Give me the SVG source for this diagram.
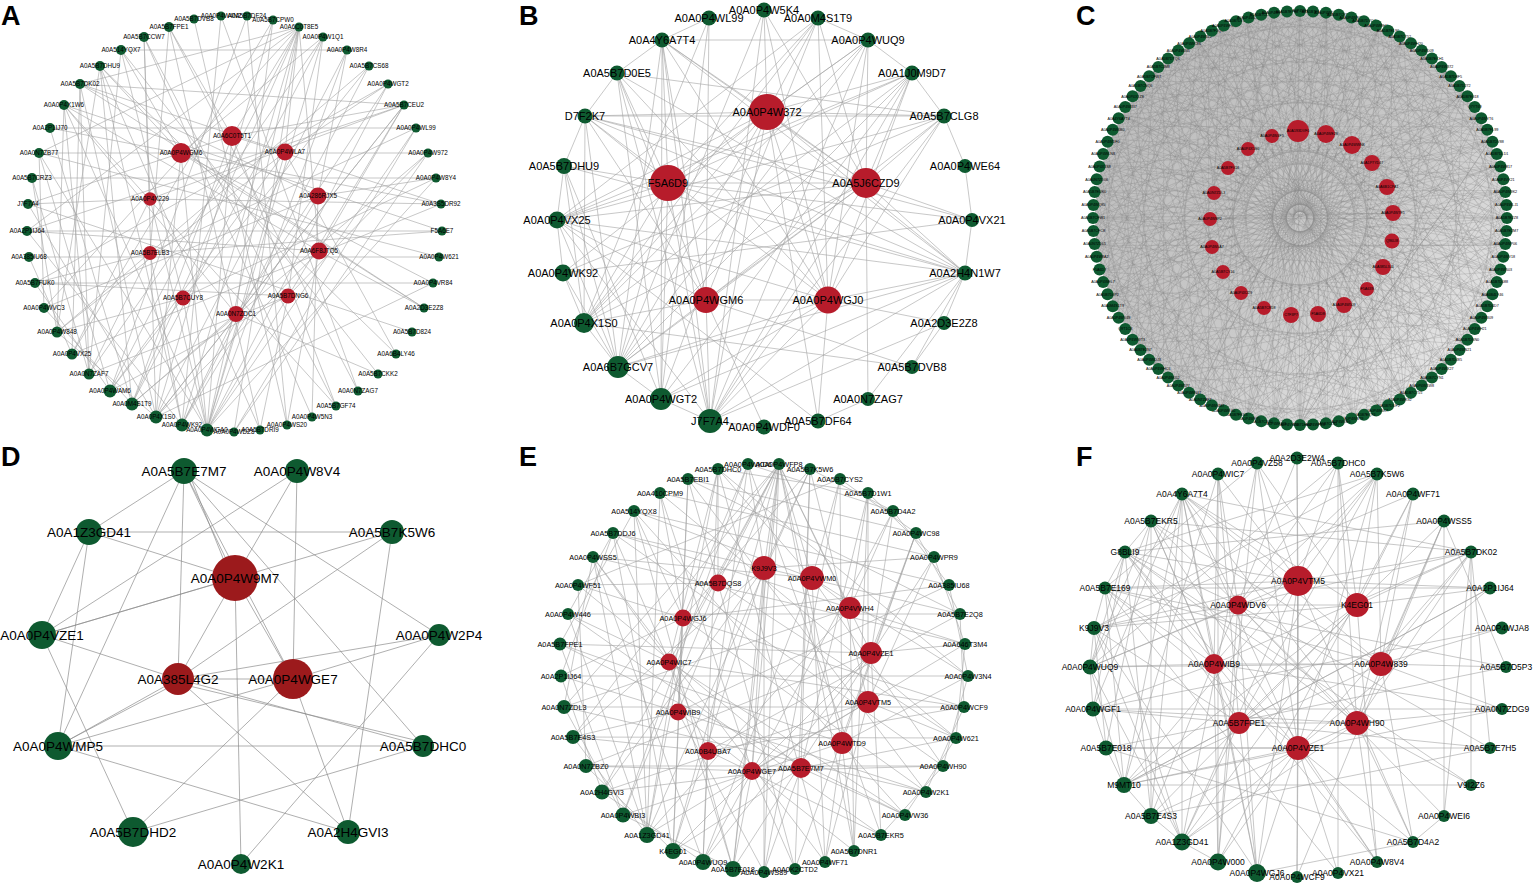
<svg xmlns="http://www.w3.org/2000/svg" xmlns:xlink="http://www.w3.org/1999/xlink" width="1535" height="886" viewBox="0 0 1535 886">
<style>
text{font-family:"Liberation Sans",Arial,Helvetica,sans-serif;text-anchor:middle;fill:#000}
.pl{font-size:27px;font-weight:bold;text-anchor:start}
.gn circle{fill:#0e5a30}
.rd circle{fill:#b71c2b}
.dr circle{fill:#9c1a1c}
.fa{font-size:6.3px}
.fb{font-size:11px}
.fc{font-size:3.7px}
.fd{font-size:13.5px}
.fe{font-size:7.3px}
.ff{font-size:8.5px}
.e{fill:none;stroke:#a3a3a3;stroke-width:.6}
.ed{fill:none;stroke:#8c8c8c;stroke-width:.7}
</style>
<defs>
<linearGradient id="cg" x1="0" y1="0" x2="1" y2="1">
<stop offset="0" stop-color="#b9b9b9"/><stop offset="0.55" stop-color="#c9c9c9"/><stop offset="1" stop-color="#f2f2f2"/>
</linearGradient>
<path id="cf" d="M1300 11 1446 72M1300 11 1505 191M1300 11 1491 297M1300 11 1426 382M1300 11 1354 418M1300 11 1327 423" fill="none" stroke="#858585" stroke-width=".4" stroke-opacity=".6"/>
<path id="cf2" d="M1300 11 1491 139M1300 11 1505 245M1300 11 1464 344M1300 11 1404 397M1300 11 1313 425" fill="none" stroke="#8a8a8a" stroke-width=".4" stroke-opacity=".55"/>
</defs>
<rect width="1535" height="886" fill="#fff"/>

<g id="labels">
<text class="pl" x="1" y="25">A</text>
<text class="pl" x="519" y="25">B</text>
<text class="pl" x="1076" y="25">C</text>
<text class="pl" x="1" y="466">D</text>
<text class="pl" x="519" y="466">E</text>
<text class="pl" x="1076" y="466">F</text>
</g>

<g id="connectors">
<path id="edges-a" class="e" stroke-width=".5" d="M232 136 299 27M232 136 169 27M232 136 207 430M232 136 441 204M232 136 28 204M232 136 132 404M232 136 336 406M232 136 404 105M181 153 100 66M181 153 121 50M181 153 323 37M181 153 207 430M181 153 156 417M181 153 433 283M39 153 428 153M181 153 424 308M285 152 299 27M285 152 388 84M285 152 207 430M285 152 110 391M285 152 80 84M285 152 396 354M285 152 57 332M28 204 150 199M150 199 144 37M150 199 207 430M150 199 404 105M150 199 72 354M150 199 441 204M318 196 347 50M318 196 182 425M318 196 80 84M318 196 436 178M318 196 312 417M318 196 44 308M150 253 35 283M150 253 169 27M150 253 182 425M150 253 416 128M150 253 442 231M150 253 89 374M319 251 299 27M319 251 27 231M319 251 156 417M319 251 404 105M319 251 287 425M319 251 424 308M319 251 64 105M183 298 121 50M183 298 207 430M183 298 436 178M183 298 57 332M183 298 369 66M183 298 110 391M288 296 323 37M288 296 110 391M288 296 35 283M288 296 428 153M288 296 260 430M288 296 89 374M236 314 273 20M236 314 182 425M236 314 64 105M236 314 388 84M236 314 378 374M236 314 132 404M121 50 347 50M50 128 416 128M35 283 433 283M27 231 442 231M29 257 439 257M207 430 299 27M207 430 323 37M207 430 388 84M207 430 404 105M207 430 416 128M207 430 436 178M182 425 299 27M182 425 369 66M156 417 273 20M156 417 347 50M234 432 299 27M234 432 428 153M80 84 72 354M80 84 156 417M100 66 132 404M100 66 182 425M64 105 89 374M64 105 207 430M144 37 156 417M144 37 336 406M169 27 260 430M169 27 358 391M194 19 287 425M221 16 182 425M247 16 110 391M273 20 72 354M299 27 44 308M299 27 27 231M299 27 39 153M299 27 80 84M299 27 132 404M323 37 89 374M347 50 207 430M369 66 57 332M388 84 35 283M404 105 156 417M404 105 27 231M404 105 80 84M416 128 234 432M428 153 132 404M436 178 32 178M441 204 72 354M439 257 39 153M433 283 156 417M424 308 80 84M412 332 28 204M396 354 100 66M378 374 121 50M358 391 221 16M336 406 64 105M312 417 144 37M287 425 247 16M260 430 100 66M132 404 50 128M110 391 39 153M89 374 32 178M57 332 32 178M44 308 39 153M72 354 29 257M110 391 35 283M132 404 44 308M156 417 57 332M121 50 89 374M100 66 57 332M50 128 441 204M64 105 442 231M27 231 182 425M28 204 156 417M39 153 207 430M110 391 299 27M132 404 323 37M156 417 404 105M89 374 80 84M57 332 64 105"/>

<path id="edges-b" class="e" stroke="#9d9d9d" stroke-width=".65" d="M767 112 662 40M767 112 585 116M767 112 557 220M767 112 584 323M767 112 618 367M767 112 661 399M767 112 710 421M767 112 912 73M767 112 944 116M767 112 965 273M767 112 764 10M767 112 818 18M767 112 868 40M767 112 828 300M767 112 866 183M767 112 563 273M767 112 818 421M668 183 818 18M668 183 868 40M668 183 912 73M668 183 585 116M668 183 564 166M668 183 557 220M668 183 584 323M668 183 618 367M668 183 661 399M668 183 710 421M668 183 866 183M668 183 965 273M668 183 972 220M668 183 617 73M668 183 662 40M866 183 764 10M866 183 818 18M866 183 868 40M866 183 912 73M866 183 944 116M866 183 972 220M866 183 965 273M866 183 585 116M866 183 557 220M866 183 584 323M866 183 618 367M866 183 710 421M866 183 868 399M866 183 706 300M866 183 662 40M706 300 709 18M706 300 662 40M706 300 617 73M706 300 585 116M706 300 557 220M706 300 584 323M706 300 618 367M706 300 828 300M706 300 912 367M706 300 710 421M706 300 764 427M706 300 818 18M706 300 944 116M828 300 818 18M828 300 868 40M828 300 912 73M828 300 944 116M828 300 965 273M828 300 944 323M828 300 557 220M828 300 618 367M828 300 661 399M828 300 710 421M828 300 662 40M828 300 585 116M828 300 818 421M828 300 764 10M828 300 617 73M585 116 944 116M662 40 868 40M617 73 585 116M585 116 564 166M564 166 557 220M557 220 563 273M563 273 584 323M584 323 618 367M618 367 661 399M661 399 710 421M662 40 617 73M912 73 944 116M944 116 965 166M965 166 972 220M972 220 965 273M965 273 944 323M944 323 912 367M868 40 912 73M818 18 868 40M709 18 662 40M868 399 818 421M710 421 764 427M764 10 618 367M764 10 710 421M818 18 584 323M818 18 557 220M709 18 584 323M868 40 584 323M868 40 618 367M617 73 710 421M617 73 661 399M912 73 557 220M912 73 618 367M912 73 584 323M944 116 557 220M944 116 563 273M662 40 710 421M662 40 661 399M662 40 965 273M585 116 965 273M585 116 972 220M564 166 965 273M617 73 944 116M557 220 965 273M563 273 972 220M618 367 965 273M661 399 965 273M710 421 965 273M710 421 944 116M710 421 868 40M564 166 661 399M557 220 710 421M617 73 965 273M584 323 912 367M557 220 618 367M564 166 618 367M563 273 618 367M564 166 584 323M585 116 584 323M585 116 618 367M662 40 618 367M710 421 912 73M661 399 912 73M818 421 557 220M965 273 868 399M965 273 912 367M944 323 710 421M709 18 661 399"/>

<g id="edges-c">
<circle cx="1300" cy="218" r="205" fill="url(#cg)"/>
<use xlink:href="#cf"/><use xlink:href="#cf" transform="rotate(7.5 1300 218)"/><use xlink:href="#cf" transform="rotate(15 1300 218)"/><use xlink:href="#cf" transform="rotate(22.5 1300 218)"/><use xlink:href="#cf" transform="rotate(30 1300 218)"/><use xlink:href="#cf" transform="rotate(37.5 1300 218)"/><use xlink:href="#cf" transform="rotate(45 1300 218)"/><use xlink:href="#cf" transform="rotate(52.5 1300 218)"/><use xlink:href="#cf" transform="rotate(60 1300 218)"/><use xlink:href="#cf" transform="rotate(67.5 1300 218)"/><use xlink:href="#cf" transform="rotate(75 1300 218)"/><use xlink:href="#cf" transform="rotate(82.5 1300 218)"/><use xlink:href="#cf" transform="rotate(90 1300 218)"/><use xlink:href="#cf" transform="rotate(97.5 1300 218)"/><use xlink:href="#cf" transform="rotate(105 1300 218)"/><use xlink:href="#cf" transform="rotate(112.5 1300 218)"/><use xlink:href="#cf" transform="rotate(120 1300 218)"/><use xlink:href="#cf" transform="rotate(127.5 1300 218)"/><use xlink:href="#cf" transform="rotate(135 1300 218)"/><use xlink:href="#cf" transform="rotate(142.5 1300 218)"/><use xlink:href="#cf" transform="rotate(150 1300 218)"/><use xlink:href="#cf" transform="rotate(157.5 1300 218)"/><use xlink:href="#cf" transform="rotate(165 1300 218)"/><use xlink:href="#cf" transform="rotate(172.5 1300 218)"/><use xlink:href="#cf" transform="rotate(180 1300 218)"/><use xlink:href="#cf" transform="rotate(187.5 1300 218)"/><use xlink:href="#cf" transform="rotate(195 1300 218)"/><use xlink:href="#cf" transform="rotate(202.5 1300 218)"/><use xlink:href="#cf" transform="rotate(210 1300 218)"/><use xlink:href="#cf" transform="rotate(217.5 1300 218)"/><use xlink:href="#cf" transform="rotate(225 1300 218)"/><use xlink:href="#cf" transform="rotate(232.5 1300 218)"/><use xlink:href="#cf" transform="rotate(240 1300 218)"/><use xlink:href="#cf" transform="rotate(247.5 1300 218)"/><use xlink:href="#cf" transform="rotate(255 1300 218)"/><use xlink:href="#cf" transform="rotate(262.5 1300 218)"/><use xlink:href="#cf" transform="rotate(270 1300 218)"/><use xlink:href="#cf" transform="rotate(277.5 1300 218)"/><use xlink:href="#cf" transform="rotate(285 1300 218)"/><use xlink:href="#cf" transform="rotate(292.5 1300 218)"/><use xlink:href="#cf" transform="rotate(300 1300 218)"/><use xlink:href="#cf" transform="rotate(307.5 1300 218)"/><use xlink:href="#cf" transform="rotate(315 1300 218)"/><use xlink:href="#cf" transform="rotate(322.5 1300 218)"/><use xlink:href="#cf" transform="rotate(330 1300 218)"/><use xlink:href="#cf" transform="rotate(337.5 1300 218)"/><use xlink:href="#cf" transform="rotate(345 1300 218)"/><use xlink:href="#cf" transform="rotate(352.5 1300 218)"/>
<use xlink:href="#cf2" transform="rotate(183.75 1300 218)"/><use xlink:href="#cf2" transform="rotate(191.25 1300 218)"/><use xlink:href="#cf2" transform="rotate(198.75 1300 218)"/><use xlink:href="#cf2" transform="rotate(206.25 1300 218)"/><use xlink:href="#cf2" transform="rotate(213.75 1300 218)"/><use xlink:href="#cf2" transform="rotate(221.25 1300 218)"/><use xlink:href="#cf2" transform="rotate(228.75 1300 218)"/><use xlink:href="#cf2" transform="rotate(236.25 1300 218)"/><use xlink:href="#cf2" transform="rotate(243.75 1300 218)"/><use xlink:href="#cf2" transform="rotate(251.25 1300 218)"/><use xlink:href="#cf2" transform="rotate(258.75 1300 218)"/><use xlink:href="#cf2" transform="rotate(266.25 1300 218)"/><use xlink:href="#cf2" transform="rotate(273.75 1300 218)"/><use xlink:href="#cf2" transform="rotate(281.25 1300 218)"/><use xlink:href="#cf2" transform="rotate(288.75 1300 218)"/><use xlink:href="#cf2" transform="rotate(296.25 1300 218)"/><use xlink:href="#cf2" transform="rotate(303.75 1300 218)"/><use xlink:href="#cf2" transform="rotate(311.25 1300 218)"/><use xlink:href="#cf2" transform="rotate(318.75 1300 218)"/><use xlink:href="#cf2" transform="rotate(326.25 1300 218)"/><use xlink:href="#cf2" transform="rotate(333.75 1300 218)"/><use xlink:href="#cf2" transform="rotate(341.25 1300 218)"/><use xlink:href="#cf2" transform="rotate(348.75 1300 218)"/><use xlink:href="#cf2" transform="rotate(356.25 1300 218)"/><use xlink:href="#cf2" transform="rotate(3.75 1300 218)"/><use xlink:href="#cf2" transform="rotate(11.25 1300 218)"/><use xlink:href="#cf2" transform="rotate(18.75 1300 218)"/><use xlink:href="#cf2" transform="rotate(26.25 1300 218)"/><use xlink:href="#cf2" transform="rotate(93.75 1300 218)"/><use xlink:href="#cf2" transform="rotate(123.75 1300 218)"/><use xlink:href="#cf2" transform="rotate(153.75 1300 218)"/>
<path fill="none" stroke="#8a8a8a" stroke-width=".45" stroke-opacity=".7" d="M1298 131 1300 11M1298 131 1093 218M1298 131 1300 425M1298 131 1507 218M1298 131 1136 92M1272 136 1121 115M1272 136 1404 397M1272 136 1154 364M1326 134 1404 39M1326 134 1197 397M1326 134 1479 322M1352 145 1479 115M1352 145 1109 297M1352 145 1300 425M1372 163 1221 27M1372 163 1246 418M1372 163 1500 272M1387 187 1100 164M1387 187 1404 397M1393 213 1093 218M1393 213 1354 418M1393 213 1446 72M1392 241 1121 115M1392 241 1273 423M1383 267 1095 245M1383 267 1327 423M1383 267 1500 164M1367 289 1197 39M1367 289 1221 409M1344 305 1154 72M1344 305 1300 425M1344 305 1479 322M1318 314 1327 13M1318 314 1136 344M1291 315 1246 18M1291 315 1404 397M1264 308 1379 27M1264 308 1093 218M1241 293 1464 92M1241 293 1109 139M1223 272 1500 164M1223 272 1197 39M1212 247 1505 245M1212 247 1154 72M1210 219 1507 218M1210 219 1109 297M1214 193 1491 297M1214 193 1221 27M1228 168 1464 344M1228 168 1354 18M1248 149 1426 382M1248 149 1273 13M1298 131 1291 315M1372 163 1223 272M1392 241 1214 193M1272 136 1344 305M1352 145 1241 293M1210 219 1393 213M1300 425 1491 139M1300 425 1505 191M1273 423 1464 92M1246 418 1500 164M1327 423 1505 191M1300 425 1479 115M1298 131 1264 308M1326 134 1241 293M1387 187 1212 247M1248 149 1383 267"/>
</g>

<path id="edges-d" class="ed" d="M184 471 89 532M184 471 235 578M188 471 231 578M184 471 178 679M184 471 58 746M184 471 293 679M184 471 439 635M184 471 423 746M297 471 235 578M297 471 42 635M297 471 293 679M89 532 392 532M89 532 235 578M89 532 42 635M89 532 58 746M392 532 42 635M392 532 178 679M392 532 348 832M235 578 42 635M235 578 178 679M235 578 293 679M235 578 241 864M42 635 178 679M42 635 133 832M178 679 293 679M178 679 58 746M181 681 61 744M178 679 423 746M181 684 423 742M178 679 348 832M293 679 58 746M293 679 439 635M293 679 133 832M293 679 348 832M439 635 178 679M439 635 241 864M58 746 423 746M58 746 348 832M423 746 133 832"/>

<path id="edges-e" class="e" stroke="#9f9f9f" d="M764 568 613 533M764 568 779 464M764 568 748 464M764 568 810 469M764 568 673 851M764 568 733 869M764 568 764 872M764 568 573 737M764 568 960 614M764 568 934 557M764 568 602 792M764 568 752 771M812 578 779 464M812 578 718 469M812 578 840 479M812 578 634 511M812 578 593 557M812 578 703 862M812 578 825 862M812 578 943 766M812 578 968 676M812 578 850 608M718 583 688 479M718 583 718 469M718 583 779 464M718 583 578 585M718 583 623 815M718 583 795 869M718 583 956 738M850 608 613 533M850 608 779 464M850 608 868 493M850 608 893 511M850 608 647 835M850 608 854 851M850 608 564 707M850 608 965 644M683 618 634 511M683 618 660 493M683 618 748 464M683 618 810 469M683 618 561 676M683 618 647 835M683 618 673 851M683 618 926 792M683 618 949 585M871 653 893 511M871 653 916 533M871 653 779 464M871 653 965 644M871 653 560 644M871 653 673 851M871 653 703 862M871 653 586 766M871 653 881 835M669 662 718 469M669 662 593 557M669 662 568 614M669 662 779 464M669 662 733 869M669 662 905 815M669 662 964 707M868 702 934 557M868 702 810 469M868 702 868 493M868 702 647 835M868 702 825 862M868 702 956 738M868 702 602 792M678 712 688 479M678 712 779 464M678 712 561 676M678 712 573 737M678 712 764 872M678 712 854 851M678 712 926 792M678 712 949 585M842 743 779 464M842 743 840 479M842 743 916 533M842 743 623 815M842 743 854 851M842 743 825 862M842 743 968 676M842 743 560 644M708 751 748 464M708 751 613 533M708 751 573 737M708 751 703 862M708 751 881 835M708 751 964 707M708 751 960 614M752 771 779 464M752 771 660 493M752 771 586 766M752 771 733 869M752 771 795 869M752 771 943 766M752 771 965 644M801 768 810 469M801 768 868 493M801 768 602 792M801 768 673 851M801 768 764 872M801 768 905 815M801 768 956 738M801 768 578 585M568 614 960 614M564 707 964 707M561 676 968 676M586 766 943 766M573 737 956 738M647 835 593 557M647 835 634 511M647 835 660 493M647 835 810 469M673 851 613 533M673 851 688 479M673 851 779 464M703 862 593 557M703 862 893 511M703 862 718 469M733 869 634 511M733 869 779 464M733 869 934 557M764 872 779 464M764 872 840 479M795 869 810 469M795 869 916 533M854 851 868 493M854 851 779 464M825 862 718 469M825 862 593 557M881 835 748 464M881 835 568 614M905 815 634 511M905 815 560 644M926 792 688 479M926 792 564 707M943 766 613 533M956 738 660 493M964 707 578 585M968 676 718 469M965 644 593 557M960 614 688 479M949 585 634 511M934 557 660 493M916 533 688 479M893 511 748 464M868 493 718 469M840 479 578 585M779 464 564 707M779 464 573 737M779 464 602 792M748 464 623 815M718 469 647 835M568 614 647 835M560 644 623 815M561 676 602 792M564 707 623 815M573 737 647 835M586 766 673 851M602 792 703 862M623 815 733 869M578 585 586 766M593 557 564 707M613 533 561 676M634 511 560 644M613 533 568 614M943 766 881 835M956 738 905 815M964 707 926 792M968 676 943 766M965 644 956 738M960 614 964 707M949 585 968 676M934 557 965 644M916 533 960 614M893 511 949 585M868 493 934 557M840 479 916 533M810 469 893 511"/>

<path id="edges-f" class="e" stroke="#9f9f9f" d="M1298 581 1297 458M1298 581 1257 463M1298 581 1338 463M1298 581 1182 494M1298 581 1218 474M1298 581 1377 474M1298 581 1125 552M1298 581 1471 552M1298 581 1094 628M1298 581 1090 667M1298 581 1124 785M1298 581 1182 842M1298 581 1257 873M1298 581 1297 877M1298 581 1413 842M1298 581 1490 588M1298 581 1105 588M1238 605 1218 474M1238 605 1182 494M1238 605 1151 521M1238 605 1125 552M1238 605 1094 628M1238 605 1090 667M1238 605 1338 463M1238 605 1377 474M1238 605 1257 873M1238 605 1218 862M1238 605 1444 816M1238 605 1490 748M1238 605 1471 552M1357 605 1338 463M1357 605 1377 474M1357 605 1413 494M1357 605 1471 552M1357 605 1490 588M1357 605 1444 521M1357 605 1257 463M1357 605 1182 494M1357 605 1182 842M1357 605 1151 816M1357 605 1377 862M1357 605 1124 785M1357 605 1094 628M1214 664 1218 474M1214 664 1182 494M1214 664 1151 521M1214 664 1105 588M1214 664 1090 667M1214 664 1093 709M1214 664 1218 862M1214 664 1257 873M1214 664 1377 474M1214 664 1471 552M1214 664 1502 709M1381 664 1377 474M1381 664 1413 494M1381 664 1444 521M1381 664 1471 552M1381 664 1502 628M1381 664 1506 667M1381 664 1502 709M1381 664 1413 842M1381 664 1182 494M1381 664 1151 521M1381 664 1090 667M1381 664 1124 785M1381 664 1105 588M1239 723 1218 474M1239 723 1151 521M1239 723 1125 552M1239 723 1094 628M1239 723 1093 709M1239 723 1124 785M1239 723 1182 842M1239 723 1257 873M1239 723 1377 474M1239 723 1490 588M1239 723 1490 748M1357 723 1338 463M1357 723 1413 494M1357 723 1444 521M1357 723 1471 552M1357 723 1502 709M1357 723 1471 785M1357 723 1413 842M1357 723 1377 862M1357 723 1182 494M1357 723 1125 552M1357 723 1093 709M1357 723 1182 842M1357 723 1151 816M1298 748 1297 458M1298 748 1257 463M1298 748 1377 474M1298 748 1182 494M1298 748 1125 552M1298 748 1105 588M1298 748 1106 748M1298 748 1124 785M1298 748 1182 842M1298 748 1218 862M1298 748 1257 873M1298 748 1297 877M1298 748 1338 873M1298 748 1413 842M1298 748 1377 862M1298 748 1471 552M1298 748 1490 588M1298 581 1298 748M1238 605 1357 605M1214 664 1381 664M1239 723 1357 723M1238 605 1357 723M1357 605 1239 723M1105 588 1490 588M1093 709 1502 709M1106 748 1490 748M1124 785 1471 785M1444 521 1444 816M1151 521 1151 816M1218 474 1218 862M1338 463 1338 873M1090 667 1182 494M1090 667 1151 521M1090 667 1125 552M1093 709 1182 494M1093 709 1125 552M1106 748 1151 521M1106 748 1094 628M1124 785 1182 494M1124 785 1218 474M1124 785 1105 588M1124 785 1090 667M1151 816 1182 494M1151 816 1125 552M1182 842 1182 494M1182 842 1257 463M1182 842 1105 588M1182 842 1094 628M1182 842 1090 667M1218 862 1257 463M1257 873 1182 494M1257 873 1094 628M1257 873 1413 842M1094 628 1090 667M1094 628 1105 588M1105 588 1125 552M1125 552 1151 521M1090 667 1093 709M1093 709 1106 748M1106 748 1124 785M1124 785 1151 816M1151 816 1182 842M1182 842 1218 862M1094 628 1413 494M1125 552 1444 521M1471 552 1471 785M1471 552 1490 748M1471 552 1444 816M1471 552 1182 494M1471 552 1151 521M1377 474 1125 552M1377 474 1094 628M1338 463 1090 667M1257 463 1105 588M1297 458 1151 816M1413 494 1218 862M1444 521 1506 667M1490 588 1124 785M1502 628 1093 709M1506 667 1106 748M1502 709 1124 785M1490 748 1151 816M1471 785 1125 552M1444 816 1413 842M1413 842 1106 748M1377 862 1151 521M1338 873 1105 588M1297 877 1444 521M1105 588 1506 667M1125 552 1377 862"/>
</g>

<g id="nodes-a" class="fa">
<g id="a_n1" class="gn"><circle cx="221" cy="16" r="4.5"/><text x="221" y="18.2">A0A0P4W4N2</text></g>
<g id="a_n2" class="gn"><circle cx="247" cy="16" r="4.5"/><text x="247" y="18.2">A0A5B7DF24</text></g>
<g id="a_n3" class="gn"><circle cx="273" cy="20" r="4.5"/><text x="273" y="22.2">A0A5B7CPW0</text></g>
<g id="a_n4" class="gn"><circle cx="299" cy="27" r="4.5"/><text x="299" y="29.2">A0A6C0T8E5</text></g>
<g id="a_n5" class="gn"><circle cx="323" cy="37" r="4.5"/><text x="323" y="39.2">A0A0P4W1Q1</text></g>
<g id="a_n6" class="gn"><circle cx="347" cy="50" r="4.5"/><text x="347" y="52.2">A0A0P4W8R4</text></g>
<g id="a_n7" class="gn"><circle cx="369" cy="66" r="4.5"/><text x="369" y="68.2">A0A5B7CS68</text></g>
<g id="a_n8" class="gn"><circle cx="388" cy="84" r="4.5"/><text x="388" y="86.2">A0A0P4WGT2</text></g>
<g id="a_n9" class="gn"><circle cx="404" cy="105" r="4.5"/><text x="404" y="107.2">A0A5B7CEU2</text></g>
<g id="a_n10" class="gn"><circle cx="416" cy="128" r="4.5"/><text x="416" y="130.2">A0A0P4WL99</text></g>
<g id="a_n11" class="gn"><circle cx="428" cy="153" r="4.5"/><text x="428" y="155.2">A0A0P4W972</text></g>
<g id="a_n12" class="gn"><circle cx="436" cy="178" r="4.5"/><text x="436" y="180.2">A0A0P4W8Y4</text></g>
<g id="a_n13" class="gn"><circle cx="441" cy="204" r="4.5"/><text x="441" y="206.2">A0A3S5DR92</text></g>
<g id="a_n14" class="gn"><circle cx="442" cy="231" r="4.5"/><text x="442" y="233.2">F5A6E7</text></g>
<g id="a_n15" class="gn"><circle cx="439" cy="257" r="4.5"/><text x="439" y="259.2">A0A0P4W621</text></g>
<g id="a_n16" class="gn"><circle cx="433" cy="283" r="4.5"/><text x="433" y="285.2">A0A0P4VR84</text></g>
<g id="a_n17" class="gn"><circle cx="424" cy="308" r="4.5"/><text x="424" y="310.2">A0A2D3E2Z8</text></g>
<g id="a_n18" class="gn"><circle cx="412" cy="332" r="4.5"/><text x="412" y="334.2">A0A5B7D824</text></g>
<g id="a_n19" class="gn"><circle cx="396" cy="354" r="4.5"/><text x="396" y="356.2">A0A6B4LY46</text></g>
<g id="a_n20" class="gn"><circle cx="378" cy="374" r="4.5"/><text x="378" y="376.2">A0A5B7CKK2</text></g>
<g id="a_n21" class="gn"><circle cx="358" cy="391" r="4.5"/><text x="358" y="393.2">A0A0N7ZAG7</text></g>
<g id="a_n22" class="gn"><circle cx="336" cy="406" r="4.5"/><text x="336" y="408.2">A0A5B7GF74</text></g>
<g id="a_n23" class="gn"><circle cx="312" cy="417" r="4.5"/><text x="312" y="419.2">A0A0P4W5N3</text></g>
<g id="a_n24" class="gn"><circle cx="287" cy="425" r="4.5"/><text x="287" y="427.2">A0A0P4WS20</text></g>
<g id="a_n25" class="gn"><circle cx="260" cy="430" r="4.5"/><text x="260" y="432.2">A0A5B7DRI9</text></g>
<g id="a_n26" class="gn"><circle cx="234" cy="432" r="4.5"/><text x="234" y="434.2">A0A0P4WDZ8</text></g>
<g id="a_n27" class="gn"><circle cx="207" cy="430" r="6.5"/><text x="207" y="432.2">A0A0P4WGA0</text></g>
<g id="a_n28" class="gn"><circle cx="182" cy="425" r="6.5"/><text x="182" y="427.2">A0A0P4WK92</text></g>
<g id="a_n29" class="gn"><circle cx="156" cy="417" r="6.5"/><text x="156" y="419.2">A0A0P4X1S0</text></g>
<g id="a_n30" class="gn"><circle cx="132" cy="404" r="6.5"/><text x="132" y="406.2">A0A0M4S1T9</text></g>
<g id="a_n31" class="gn"><circle cx="110" cy="391" r="6.5"/><text x="110" y="393.2">A0A0P4WAM6</text></g>
<g id="a_n32" class="gn"><circle cx="89" cy="374" r="5.5"/><text x="89" y="376.2">A0A0N7ZAF7</text></g>
<g id="a_n33" class="gn"><circle cx="72" cy="354" r="5.5"/><text x="72" y="356.2">A0A0P4VX25</text></g>
<g id="a_n34" class="gn"><circle cx="57" cy="332" r="5.5"/><text x="57" y="334.2">A0A0P4W848</text></g>
<g id="a_n35" class="gn"><circle cx="44" cy="308" r="5"/><text x="44" y="310.2">A0A0P4WVC3</text></g>
<g id="a_n36" class="gn"><circle cx="35" cy="283" r="5"/><text x="35" y="285.2">A0A5B7FUK0</text></g>
<g id="a_n37" class="gn"><circle cx="29" cy="257" r="5"/><text x="29" y="259.2">A0A385IU68</text></g>
<g id="a_n38" class="gn"><circle cx="27" cy="231" r="5"/><text x="27" y="233.2">A0A2P1IJ64</text></g>
<g id="a_n39" class="gn"><circle cx="28" cy="204" r="5"/><text x="28" y="206.2">J7F7A4</text></g>
<g id="a_n40" class="gn"><circle cx="32" cy="178" r="5"/><text x="32" y="180.2">A0A5B7CRZ3</text></g>
<g id="a_n41" class="gn"><circle cx="39" cy="153" r="5"/><text x="39" y="155.2">A0A0N7ZB77</text></g>
<g id="a_n42" class="gn"><circle cx="50" cy="128" r="5"/><text x="50" y="130.2">A0A2P1IJ70</text></g>
<g id="a_n43" class="gn"><circle cx="64" cy="105" r="5"/><text x="64" y="107.2">A0A0P4X1W6</text></g>
<g id="a_n44" class="gn"><circle cx="80" cy="84" r="5"/><text x="80" y="86.2">A0A5B7DK02</text></g>
<g id="a_n45" class="gn"><circle cx="100" cy="66" r="5"/><text x="100" y="68.2">A0A5B7DHU9</text></g>
<g id="a_n46" class="gn"><circle cx="121" cy="50" r="5"/><text x="121" y="52.2">A0A514YQX7</text></g>
<g id="a_n47" class="gn"><circle cx="144" cy="37" r="5"/><text x="144" y="39.2">A0A5B7CCW7</text></g>
<g id="a_n48" class="gn"><circle cx="169" cy="27" r="5"/><text x="169" y="29.2">A0A5B7FPE1</text></g>
<g id="a_n49" class="gn"><circle cx="194" cy="19" r="4.5"/><text x="194" y="21.2">A0A5B7DVB8</text></g>
<g id="a_r1" class="rd"><circle cx="232" cy="136" r="10"/><text x="232" y="138.2">A0A6C0T5T1</text></g>
<g id="a_r2" class="rd"><circle cx="181" cy="153" r="10"/><text x="181" y="155.2">A0A0P4WGM6</text></g>
<g id="a_r3" class="rd"><circle cx="285" cy="152" r="8.5"/><text x="285" y="154.2">A0A0P4WLA7</text></g>
<g id="a_r4" class="rd"><circle cx="150" cy="199" r="6.7"/><text x="150" y="201.2">A0A0P4X229</text></g>
<g id="a_r5" class="rd"><circle cx="318" cy="196" r="8.5"/><text x="318" y="198.2">A0A286RJX5</text></g>
<g id="a_r6" class="rd"><circle cx="150" cy="253" r="7"/><text x="150" y="255.2">A0A5B7ELB3</text></g>
<g id="a_r7" class="rd"><circle cx="319" cy="251" r="8.5"/><text x="319" y="253.2">A0A6F8JTQ5</text></g>
<g id="a_r8" class="rd"><circle cx="183" cy="298" r="7.5"/><text x="183" y="300.2">A0A5B7CUY8</text></g>
<g id="a_r9" class="rd"><circle cx="288" cy="296" r="7.5"/><text x="288" y="298.2">A0A5B7DNG6</text></g>
<g id="a_r10" class="rd"><circle cx="236" cy="314" r="8"/><text x="236" y="316.2">A0A0N7ZDC1</text></g>
</g>

<g id="nodes-b" class="fb">
<g id="b_n1" class="gn"><circle cx="764" cy="10" r="7.5"/><text x="764" y="13.9">A0A0P4W5K4</text></g>
<g id="b_n2" class="gn"><circle cx="709" cy="18" r="7.5"/><text x="709" y="21.9">A0A0P4WL99</text></g>
<g id="b_n3" class="gn"><circle cx="818" cy="18" r="7.5"/><text x="818" y="21.9">A0A0M4S1T9</text></g>
<g id="b_n4" class="gn"><circle cx="662" cy="40" r="7.5"/><text x="662" y="43.9">A0A4Y6A7T4</text></g>
<g id="b_n5" class="gn"><circle cx="868" cy="40" r="7.5"/><text x="868" y="43.9">A0A0P4WUQ9</text></g>
<g id="b_n6" class="gn"><circle cx="617" cy="73" r="7.5"/><text x="617" y="76.9">A0A5B7D0E5</text></g>
<g id="b_n7" class="gn"><circle cx="912" cy="73" r="7.5"/><text x="912" y="76.9">A0A1J0M9D7</text></g>
<g id="b_n8" class="gn"><circle cx="585" cy="116" r="7.5"/><text x="585" y="119.9">D7F2K7</text></g>
<g id="b_n9" class="gn"><circle cx="944" cy="116" r="7.5"/><text x="944" y="119.9">A0A5B7CLG8</text></g>
<g id="b_n10" class="gn"><circle cx="564" cy="166" r="8"/><text x="564" y="169.9">A0A5B7DHU9</text></g>
<g id="b_n11" class="gn"><circle cx="965" cy="166" r="7"/><text x="965" y="169.9">A0A0P4WE64</text></g>
<g id="b_n12" class="gn"><circle cx="557" cy="220" r="8.5"/><text x="557" y="223.9">A0A0P4VX25</text></g>
<g id="b_n13" class="gn"><circle cx="972" cy="220" r="7"/><text x="972" y="223.9">A0A0P4VX21</text></g>
<g id="b_n14" class="gn"><circle cx="563" cy="273" r="8.5"/><text x="563" y="276.9">A0A0P4WK92</text></g>
<g id="b_n15" class="gn"><circle cx="965" cy="273" r="7.5"/><text x="965" y="276.9">A0A2H4N1W7</text></g>
<g id="b_n16" class="gn"><circle cx="584" cy="323" r="10"/><text x="584" y="326.9">A0A0P4X1S0</text></g>
<g id="b_n17" class="gn"><circle cx="944" cy="323" r="7"/><text x="944" y="326.9">A0A2D3E2Z8</text></g>
<g id="b_n18" class="gn"><circle cx="618" cy="367" r="11"/><text x="618" y="370.9">A0A6B7GCV7</text></g>
<g id="b_n19" class="gn"><circle cx="912" cy="367" r="7"/><text x="912" y="370.9">A0A5B7DVB8</text></g>
<g id="b_n20" class="gn"><circle cx="661" cy="399" r="11"/><text x="661" y="402.9">A0A0P4WGT2</text></g>
<g id="b_n21" class="gn"><circle cx="868" cy="399" r="7"/><text x="868" y="402.9">A0A0N7ZAG7</text></g>
<g id="b_n22" class="gn"><circle cx="710" cy="421" r="12"/><text x="710" y="424.9">J7F7A4</text></g>
<g id="b_n23" class="gn"><circle cx="764" cy="427" r="7.5"/><text x="764" y="430.9">A0A0P4WDF0</text></g>
<g id="b_n24" class="gn"><circle cx="818" cy="421" r="7.5"/><text x="818" y="424.9">A0A5B7DF64</text></g>
<g id="b_r1" class="rd"><circle cx="767" cy="112" r="18"/><text x="767" y="115.9">A0A0P4W372</text></g>
<g id="b_r2" class="rd"><circle cx="668" cy="183" r="18"/><text x="668" y="186.9">F5A6D9</text></g>
<g id="b_r3" class="rd"><circle cx="866" cy="183" r="15"/><text x="866" y="186.9">A0A5J6CZD9</text></g>
<g id="b_r4" class="rd"><circle cx="706" cy="300" r="13"/><text x="706" y="303.9">A0A0P4WGM6</text></g>
<g id="b_r5" class="rd"><circle cx="828" cy="300" r="13.5"/><text x="828" y="303.9">A0A0P4WGJ0</text></g>
</g>

<g id="nodes-c" class="fc">
<g id="c_n1" class="gn" transform="rotate(0 1300 218) translate(1300 11) rotate(0)"><circle r="6"/><text y="1.3">A0A0P4WHK2</text></g>
<g id="c_n2" class="gn" transform="rotate(3.6 1300 218) translate(1300 11) rotate(-3.6)"><circle r="6"/><text y="1.3">A0A5B7F1X8</text></g>
<g id="c_n3" class="gn" transform="rotate(7.2 1300 218) translate(1300 11) rotate(-7.2)"><circle r="6"/><text y="1.3">A0A0P4W5T2</text></g>
<g id="c_n4" class="gn" transform="rotate(10.8 1300 218) translate(1300 11) rotate(-10.8)"><circle r="6"/><text y="1.3">A0A5B7CRK1</text></g>
<g id="c_n5" class="gn" transform="rotate(14.4 1300 218) translate(1300 11) rotate(-14.4)"><circle r="6"/><text y="1.3">A0A0P4WN36</text></g>
<g id="c_n6" class="gn" transform="rotate(18 1300 218) translate(1300 11) rotate(-18)"><circle r="6"/><text y="1.3">A0A5B7DYQ4</text></g>
<g id="c_n7" class="gn" transform="rotate(21.6 1300 218) translate(1300 11) rotate(-21.6)"><circle r="6"/><text y="1.3">A0A0P4W9H1</text></g>
<g id="c_n8" class="gn" transform="rotate(25.2 1300 218) translate(1300 11) rotate(-25.2)"><circle r="6"/><text y="1.3">A0A5B7E1S6</text></g>
<g id="c_n9" class="gn" transform="rotate(28.8 1300 218) translate(1300 11) rotate(-28.8)"><circle r="6"/><text y="1.3">A0A5B7CT52</text></g>
<g id="c_n10" class="gn" transform="rotate(32.4 1300 218) translate(1300 11) rotate(-32.4)"><circle r="6"/><text y="1.3">A0A0P4WH20</text></g>
<g id="c_n11" class="gn" transform="rotate(36 1300 218) translate(1300 11) rotate(-36)"><circle r="6"/><text y="1.3">A0A0P4WD09</text></g>
<g id="c_n12" class="gn" transform="rotate(39.6 1300 218) translate(1300 11) rotate(-39.6)"><circle r="6"/><text y="1.3">A0A5B7ECH1</text></g>
<g id="c_n13" class="gn" transform="rotate(43.2 1300 218) translate(1300 11) rotate(-43.2)"><circle r="6"/><text y="1.3">A0A0P4W372</text></g>
<g id="c_n14" class="gn" transform="rotate(46.8 1300 218) translate(1300 11) rotate(-46.8)"><circle r="6"/><text y="1.3">A0A5B7D8F5</text></g>
<g id="c_n15" class="gn" transform="rotate(50.4 1300 218) translate(1300 11) rotate(-50.4)"><circle r="6"/><text y="1.3">A0A5B7D272</text></g>
<g id="c_n16" class="gn" transform="rotate(54 1300 218) translate(1300 11) rotate(-54)"><circle r="6"/><text y="1.3">A0A5B7E018</text></g>
<g id="c_n17" class="gn" transform="rotate(57.6 1300 218) translate(1300 11) rotate(-57.6)"><circle r="6"/><text y="1.3">Q7YT69</text></g>
<g id="c_n18" class="gn" transform="rotate(61.2 1300 218) translate(1300 11) rotate(-61.2)"><circle r="6"/><text y="1.3">A0A0P4WVT6</text></g>
<g id="c_n19" class="gn" transform="rotate(64.8 1300 218) translate(1300 11) rotate(-64.8)"><circle r="6"/><text y="1.3">A0A5B7FL99</text></g>
<g id="c_n20" class="gn" transform="rotate(68.4 1300 218) translate(1300 11) rotate(-68.4)"><circle r="6"/><text y="1.3">A0A5B7DV88</text></g>
<g id="c_n21" class="gn" transform="rotate(72 1300 218) translate(1300 11) rotate(-72)"><circle r="6"/><text y="1.3">A0A5B7DLD1</text></g>
<g id="c_n22" class="gn" transform="rotate(75.6 1300 218) translate(1300 11) rotate(-75.6)"><circle r="6"/><text y="1.3">A0A0P4W817</text></g>
<g id="c_n23" class="gn" transform="rotate(79.2 1300 218) translate(1300 11) rotate(-79.2)"><circle r="6"/><text y="1.3">A0A0P4VX21</text></g>
<g id="c_n24" class="gn" transform="rotate(82.8 1300 218) translate(1300 11) rotate(-82.8)"><circle r="6"/><text y="1.3">A0A0P4W9K2</text></g>
<g id="c_n25" class="gn" transform="rotate(86.4 1300 218) translate(1300 11) rotate(-86.4)"><circle r="6"/><text y="1.3">A0A0P4WLJ1</text></g>
<g id="c_n26" class="gn" transform="rotate(90 1300 218) translate(1300 11) rotate(-90)"><circle r="6"/><text y="1.3">A0A5B7E2Z8</text></g>
<g id="c_n27" class="gn" transform="rotate(93.6 1300 218) translate(1300 11) rotate(-93.6)"><circle r="6"/><text y="1.3">A0A5B7E2M7</text></g>
<g id="c_n28" class="gn" transform="rotate(97.2 1300 218) translate(1300 11) rotate(-97.2)"><circle r="6"/><text y="1.3">A0A0P4WP06</text></g>
<g id="c_n29" class="gn" transform="rotate(100.8 1300 218) translate(1300 11) rotate(-100.8)"><circle r="6"/><text y="1.3">A0A0P4WV18</text></g>
<g id="c_n30" class="gn" transform="rotate(104.4 1300 218) translate(1300 11) rotate(-104.4)"><circle r="6"/><text y="1.3">A0A0P4W503</text></g>
<g id="c_n31" class="gn" transform="rotate(108 1300 218) translate(1300 11) rotate(-108)"><circle r="6"/><text y="1.3">A0A5B7D088</text></g>
<g id="c_n32" class="gn" transform="rotate(111.6 1300 218) translate(1300 11) rotate(-111.6)"><circle r="6"/><text y="1.3">A0A6B4LY46</text></g>
<g id="c_n33" class="gn" transform="rotate(115.2 1300 218) translate(1300 11) rotate(-115.2)"><circle r="6"/><text y="1.3">A0A5B7D4D7</text></g>
<g id="c_n34" class="gn" transform="rotate(118.8 1300 218) translate(1300 11) rotate(-118.8)"><circle r="6"/><text y="1.3">A0A0P4W309</text></g>
<g id="c_n35" class="gn" transform="rotate(122.4 1300 218) translate(1300 11) rotate(-122.4)"><circle r="6"/><text y="1.3">A0A0P4WH21</text></g>
<g id="c_n36" class="gn" transform="rotate(126 1300 218) translate(1300 11) rotate(-126)"><circle r="6"/><text y="1.3">A0A5B7DSN0</text></g>
<g id="c_n37" class="gn" transform="rotate(129.6 1300 218) translate(1300 11) rotate(-129.6)"><circle r="6"/><text y="1.3">A0A0P4WN21</text></g>
<g id="c_n38" class="gn" transform="rotate(133.2 1300 218) translate(1300 11) rotate(-133.2)"><circle r="6"/><text y="1.3">A0A5B7DJ85</text></g>
<g id="c_n39" class="gn" transform="rotate(136.8 1300 218) translate(1300 11) rotate(-136.8)"><circle r="6"/><text y="1.3">A0A0P4WX27</text></g>
<g id="c_n40" class="gn" transform="rotate(140.4 1300 218) translate(1300 11) rotate(-140.4)"><circle r="6"/><text y="1.3">A0A5B7CYN1</text></g>
<g id="c_n41" class="gn" transform="rotate(144 1300 218) translate(1300 11) rotate(-144)"><circle r="6"/><text y="1.3">A0A0P4W1W8</text></g>
<g id="c_n42" class="gn" transform="rotate(147.6 1300 218) translate(1300 11) rotate(-147.6)"><circle r="6"/><text y="1.3">A0A5B7CT55</text></g>
<g id="c_n43" class="gn" transform="rotate(151.2 1300 218) translate(1300 11) rotate(-151.2)"><circle r="6"/><text y="1.3">A0A0P4WK92</text></g>
<g id="c_n44" class="gn" transform="rotate(154.8 1300 218) translate(1300 11) rotate(-154.8)"><circle r="6"/><text y="1.3">A0A5B7DUF2</text></g>
<g id="c_n45" class="gn" transform="rotate(158.4 1300 218) translate(1300 11) rotate(-158.4)"><circle r="6"/><text y="1.3">A0A0P4W4K7</text></g>
<g id="c_n46" class="gn" transform="rotate(162 1300 218) translate(1300 11) rotate(-162)"><circle r="6"/><text y="1.3">A0A5B7EQ76</text></g>
<g id="c_n47" class="gn" transform="rotate(165.6 1300 218) translate(1300 11) rotate(-165.6)"><circle r="6"/><text y="1.3">A0A0P4WBT9</text></g>
<g id="c_n48" class="gn" transform="rotate(169.2 1300 218) translate(1300 11) rotate(-169.2)"><circle r="6"/><text y="1.3">A0A0P4W2E6</text></g>
<g id="c_n49" class="gn" transform="rotate(172.8 1300 218) translate(1300 11) rotate(-172.8)"><circle r="6"/><text y="1.3">A0A5B7CZ81</text></g>
<g id="c_n50" class="gn" transform="rotate(176.4 1300 218) translate(1300 11) rotate(-176.4)"><circle r="6"/><text y="1.3">A0A0P4WPZ3</text></g>
<g id="c_n51" class="gn" transform="rotate(180 1300 218) translate(1300 11) rotate(-180)"><circle r="6"/><text y="1.3">A0A5B7DHG2</text></g>
<g id="c_n52" class="gn" transform="rotate(183.6 1300 218) translate(1300 11) rotate(-183.6)"><circle r="6"/><text y="1.3">A0A0P4VYT6</text></g>
<g id="c_n53" class="gn" transform="rotate(187.2 1300 218) translate(1300 11) rotate(-187.2)"><circle r="6"/><text y="1.3">A0A0P4W6N3</text></g>
<g id="c_n54" class="gn" transform="rotate(190.8 1300 218) translate(1300 11) rotate(-190.8)"><circle r="6"/><text y="1.3">A0A5B7CB30</text></g>
<g id="c_n55" class="gn" transform="rotate(194.4 1300 218) translate(1300 11) rotate(-194.4)"><circle r="6"/><text y="1.3">A0A0P4WE95</text></g>
<g id="c_n56" class="gn" transform="rotate(198 1300 218) translate(1300 11) rotate(-198)"><circle r="6"/><text y="1.3">A0A5B7FKU3</text></g>
<g id="c_n57" class="gn" transform="rotate(201.6 1300 218) translate(1300 11) rotate(-201.6)"><circle r="6"/><text y="1.3">A0A0P4WL60</text></g>
<g id="c_n58" class="gn" transform="rotate(205.2 1300 218) translate(1300 11) rotate(-205.2)"><circle r="6"/><text y="1.3">A0A0P4WUM7</text></g>
<g id="c_n59" class="gn" transform="rotate(208.8 1300 218) translate(1300 11) rotate(-208.8)"><circle r="6"/><text y="1.3">A0A0N7ZAF7</text></g>
<g id="c_n60" class="gn" transform="rotate(212.4 1300 218) translate(1300 11) rotate(-212.4)"><circle r="6"/><text y="1.3">A0A0P4WN47</text></g>
<g id="c_n61" class="gn" transform="rotate(216 1300 218) translate(1300 11) rotate(-216)"><circle r="6"/><text y="1.3">A0A0P4W577</text></g>
<g id="c_n62" class="gn" transform="rotate(219.6 1300 218) translate(1300 11) rotate(-219.6)"><circle r="6"/><text y="1.3">A0A0P4W052</text></g>
<g id="c_n63" class="gn" transform="rotate(223.2 1300 218) translate(1300 11) rotate(-223.2)"><circle r="6"/><text y="1.3">A0A0P4WHC6</text></g>
<g id="c_n64" class="gn" transform="rotate(226.8 1300 218) translate(1300 11) rotate(-226.8)"><circle r="6"/><text y="1.3">A0A0P4WDJ3</text></g>
<g id="c_n65" class="gn" transform="rotate(230.4 1300 218) translate(1300 11) rotate(-230.4)"><circle r="6"/><text y="1.3">A0A6B7E2N7</text></g>
<g id="c_n66" class="gn" transform="rotate(234 1300 218) translate(1300 11) rotate(-234)"><circle r="6"/><text y="1.3">A0A0P4WWT3</text></g>
<g id="c_n67" class="gn" transform="rotate(237.6 1300 218) translate(1300 11) rotate(-237.6)"><circle r="6"/><text y="1.3">Q9T1C8</text></g>
<g id="c_n68" class="gn" transform="rotate(241.2 1300 218) translate(1300 11) rotate(-241.2)"><circle r="6"/><text y="1.3">A0A0P4WV49</text></g>
<g id="c_n69" class="gn" transform="rotate(244.8 1300 218) translate(1300 11) rotate(-244.8)"><circle r="6"/><text y="1.3">A0A0M4S1T9</text></g>
<g id="c_n70" class="gn" transform="rotate(248.4 1300 218) translate(1300 11) rotate(-248.4)"><circle r="6"/><text y="1.3">A0A5B7D0P2</text></g>
<g id="c_n71" class="gn" transform="rotate(252 1300 218) translate(1300 11) rotate(-252)"><circle r="6"/><text y="1.3">A0A0P4WEL7</text></g>
<g id="c_n72" class="gn" transform="rotate(255.6 1300 218) translate(1300 11) rotate(-255.6)"><circle r="6"/><text y="1.3">F5A6D7</text></g>
<g id="c_n73" class="gn" transform="rotate(259.2 1300 218) translate(1300 11) rotate(-259.2)"><circle r="6"/><text y="1.3">A0A0P4W8A2</text></g>
<g id="c_n74" class="gn" transform="rotate(262.8 1300 218) translate(1300 11) rotate(-262.8)"><circle r="6"/><text y="1.3">A0A0N7ZDL5</text></g>
<g id="c_n75" class="gn" transform="rotate(266.4 1300 218) translate(1300 11) rotate(-266.4)"><circle r="6"/><text y="1.3">A0A5B7CFC8</text></g>
<g id="c_n76" class="gn" transform="rotate(270 1300 218) translate(1300 11) rotate(-270)"><circle r="6"/><text y="1.3">A0A5B7CFW1</text></g>
<g id="c_n77" class="gn" transform="rotate(273.6 1300 218) translate(1300 11) rotate(-273.6)"><circle r="6"/><text y="1.3">A0A0P4WQ85</text></g>
<g id="c_n78" class="gn" transform="rotate(277.2 1300 218) translate(1300 11) rotate(-277.2)"><circle r="6"/><text y="1.3">A0A5B7EUK0</text></g>
<g id="c_n79" class="gn" transform="rotate(280.8 1300 218) translate(1300 11) rotate(-280.8)"><circle r="6"/><text y="1.3">A0A0N7ZD06</text></g>
<g id="c_n80" class="gn" transform="rotate(284.4 1300 218) translate(1300 11) rotate(-284.4)"><circle r="6"/><text y="1.3">A0A0P4X1S8</text></g>
<g id="c_n81" class="gn" transform="rotate(288 1300 218) translate(1300 11) rotate(-288)"><circle r="6"/><text y="1.3">A0A0P4WLN8</text></g>
<g id="c_n82" class="gn" transform="rotate(291.6 1300 218) translate(1300 11) rotate(-291.6)"><circle r="6"/><text y="1.3">A0A0P4WDF0</text></g>
<g id="c_n83" class="gn" transform="rotate(295.2 1300 218) translate(1300 11) rotate(-295.2)"><circle r="6"/><text y="1.3">A0A0P4W0B0</text></g>
<g id="c_n84" class="gn" transform="rotate(298.8 1300 218) translate(1300 11) rotate(-298.8)"><circle r="6"/><text y="1.3">A0A4Y6A7T4</text></g>
<g id="c_n85" class="gn" transform="rotate(302.4 1300 218) translate(1300 11) rotate(-302.4)"><circle r="6"/><text y="1.3">A0A0P4W337</text></g>
<g id="c_n86" class="gn" transform="rotate(306 1300 218) translate(1300 11) rotate(-306)"><circle r="6"/><text y="1.3">A0A0P4X1Z8</text></g>
<g id="c_n87" class="gn" transform="rotate(309.6 1300 218) translate(1300 11) rotate(-309.6)"><circle r="6"/><text y="1.3">A0A5B7CNQ6</text></g>
<g id="c_n88" class="gn" transform="rotate(313.2 1300 218) translate(1300 11) rotate(-313.2)"><circle r="6"/><text y="1.3">A0A5B7CFW7</text></g>
<g id="c_n89" class="gn" transform="rotate(316.8 1300 218) translate(1300 11) rotate(-316.8)"><circle r="6"/><text y="1.3">A0A5B7CJM8</text></g>
<g id="c_n90" class="gn" transform="rotate(320.4 1300 218) translate(1300 11) rotate(-320.4)"><circle r="6"/><text y="1.3">A0A5B7DTQ6</text></g>
<g id="c_n91" class="gn" transform="rotate(324 1300 218) translate(1300 11) rotate(-324)"><circle r="6"/><text y="1.3">A0A0P4WJ45</text></g>
<g id="c_n92" class="gn" transform="rotate(327.6 1300 218) translate(1300 11) rotate(-327.6)"><circle r="6"/><text y="1.3">A0A0P4WC86</text></g>
<g id="c_n93" class="gn" transform="rotate(331.2 1300 218) translate(1300 11) rotate(-331.2)"><circle r="6"/><text y="1.3">A0A0P4W1L2</text></g>
<g id="c_n94" class="gn" transform="rotate(334.8 1300 218) translate(1300 11) rotate(-334.8)"><circle r="6"/><text y="1.3">A0A5B7F2Q9</text></g>
<g id="c_n95" class="gn" transform="rotate(338.4 1300 218) translate(1300 11) rotate(-338.4)"><circle r="6"/><text y="1.3">A0A0P4WF92</text></g>
<g id="c_n96" class="gn" transform="rotate(342 1300 218) translate(1300 11) rotate(-342)"><circle r="6"/><text y="1.3">A0A5B7DPX4</text></g>
<g id="c_n97" class="gn" transform="rotate(345.6 1300 218) translate(1300 11) rotate(-345.6)"><circle r="6"/><text y="1.3">A0A0P4WZ11</text></g>
<g id="c_n98" class="gn" transform="rotate(349.2 1300 218) translate(1300 11) rotate(-349.2)"><circle r="6"/><text y="1.3">A0A5B7CU83</text></g>
<g id="c_n99" class="gn" transform="rotate(352.8 1300 218) translate(1300 11) rotate(-352.8)"><circle r="6"/><text y="1.3">A0A0P4WGR6</text></g>
<g id="c_n100" class="gn" transform="rotate(356.4 1300 218) translate(1300 11) rotate(-356.4)"><circle r="6"/><text y="1.3">A0A5B7ET40</text></g>
<g id="c_r1" class="rd"><circle cx="1272" cy="136" r="7"/><text x="1272" y="137.3">A0A0P4W4F5</text></g>
<g id="c_r2" class="rd"><circle cx="1298" cy="131" r="11"/><text x="1298" y="132.3">A0A193DVF0</text></g>
<g id="c_r3" class="rd"><circle cx="1326" cy="134" r="9"/><text x="1326" y="135.3">A0A0P4WE28</text></g>
<g id="c_r4" class="rd"><circle cx="1352" cy="145" r="9"/><text x="1352" y="146.3">A0A0P4WWN8</text></g>
<g id="c_r5" class="rd"><circle cx="1372" cy="163" r="8"/><text x="1372" y="164.3">A0A1P7YD47</text></g>
<g id="c_r6" class="rd"><circle cx="1387" cy="187" r="8"/><text x="1387" y="188.3">A0A6B1CPA1</text></g>
<g id="c_r7" class="rd"><circle cx="1393" cy="213" r="8"/><text x="1393" y="214.3">A0A0P4W7E5</text></g>
<g id="c_r8" class="rd"><circle cx="1392" cy="241" r="7.5"/><text x="1392" y="242.3">Q96LI8</text></g>
<g id="c_r9" class="rd"><circle cx="1383" cy="267" r="8"/><text x="1383" y="268.3">A0A385L3J4</text></g>
<g id="c_r10" class="rd"><circle cx="1367" cy="289" r="7"/><text x="1367" y="290.3">F5A639</text></g>
<g id="c_r11" class="rd"><circle cx="1344" cy="305" r="8"/><text x="1344" y="306.3">A0A0P4W509</text></g>
<g id="c_r12" class="rd"><circle cx="1318" cy="314" r="8"/><text x="1318" y="315.3">F5A6D8</text></g>
<g id="c_r13" class="rd"><circle cx="1291" cy="315" r="8"/><text x="1291" y="316.3">C7F3P7</text></g>
<g id="c_r14" class="rd"><circle cx="1264" cy="308" r="7"/><text x="1264" y="309.3">A0A5B7CR08</text></g>
<g id="c_r15" class="rd"><circle cx="1241" cy="293" r="7"/><text x="1241" y="294.3">A0A0P4X229</text></g>
<g id="c_r16" class="rd"><circle cx="1223" cy="272" r="7"/><text x="1223" y="273.3">A0A5B7CY16</text></g>
<g id="c_r17" class="rd"><circle cx="1212" cy="247" r="7"/><text x="1212" y="248.3">A0A0P4WLA7</text></g>
<g id="c_r18" class="rd"><circle cx="1210" cy="219" r="7"/><text x="1210" y="220.3">A0A0P4W8P2</text></g>
<g id="c_r19" class="rd"><circle cx="1214" cy="193" r="7"/><text x="1214" y="194.3">A0A0N7ZDL3</text></g>
<g id="c_r20" class="rd"><circle cx="1228" cy="168" r="7"/><text x="1228" y="169.3">A0A5B7FV18</text></g>
<g id="c_r21" class="rd"><circle cx="1248" cy="149" r="7"/><text x="1248" y="150.3">A0A0P4X1S0</text></g>
</g>

<g id="nodes-d" class="fd">
<g id="d_n1" class="gn"><circle cx="184" cy="471" r="13"/><text x="184" y="476">A0A5B7E7M7</text></g>
<g id="d_n2" class="gn"><circle cx="297" cy="471" r="12"/><text x="297" y="476">A0A0P4W8V4</text></g>
<g id="d_n3" class="gn"><circle cx="89" cy="532" r="13"/><text x="89" y="537">A0A1Z3GD41</text></g>
<g id="d_n4" class="gn"><circle cx="392" cy="532" r="12"/><text x="392" y="537">A0A5B7K5W6</text></g>
<g id="d_n5" class="gn"><circle cx="42" cy="635" r="14"/><text x="42" y="640">A0A0P4VZE1</text></g>
<g id="d_n6" class="gn"><circle cx="439" cy="635" r="11"/><text x="439" y="640">A0A0P4W2P4</text></g>
<g id="d_n7" class="gn"><circle cx="58" cy="746" r="14"/><text x="58" y="751">A0A0P4WMP5</text></g>
<g id="d_n8" class="gn"><circle cx="423" cy="746" r="11"/><text x="423" y="751">A0A5B7DHC0</text></g>
<g id="d_n9" class="gn"><circle cx="133" cy="832" r="15"/><text x="133" y="837">A0A5B7DHD2</text></g>
<g id="d_n10" class="gn"><circle cx="348" cy="832" r="12"/><text x="348" y="837">A0A2H4GVI3</text></g>
<g id="d_n11" class="gn"><circle cx="241" cy="864" r="10"/><text x="241" y="869">A0A0P4W2K1</text></g>
<g id="d_r1" class="dr"><circle cx="235" cy="578" r="23"/><text x="235" y="583">A0A0P4W9M7</text></g>
<g id="d_r2" class="dr"><circle cx="178" cy="679" r="16"/><text x="178" y="684">A0A385L4G2</text></g>
<g id="d_r3" class="dr"><circle cx="293" cy="679" r="20"/><text x="293" y="684">A0A0P4WGE7</text></g>
</g>

<g id="nodes-e" class="fe">
<g id="e_n1" class="gn"><circle cx="748" cy="464" r="6"/><text x="748" y="466.6">A0A0P4WKD6</text></g>
<g id="e_n2" class="gn"><circle cx="779" cy="464" r="6"/><text x="779" y="466.6">A0A0P4WFP8</text></g>
<g id="e_n3" class="gn"><circle cx="718" cy="469" r="6"/><text x="718" y="471.6">A0A5B7DHC0</text></g>
<g id="e_n4" class="gn"><circle cx="810" cy="469" r="6"/><text x="810" y="471.6">A0A5B7K5W6</text></g>
<g id="e_n5" class="gn"><circle cx="688" cy="479" r="6"/><text x="688" y="481.6">A0A5B7EBI1</text></g>
<g id="e_n6" class="gn"><circle cx="840" cy="479" r="6"/><text x="840" y="481.6">A0A5B7CYS2</text></g>
<g id="e_n7" class="gn"><circle cx="660" cy="493" r="6"/><text x="660" y="495.6">A0A410CPM9</text></g>
<g id="e_n8" class="gn"><circle cx="868" cy="493" r="6"/><text x="868" y="495.6">A0A5B7D1W1</text></g>
<g id="e_n9" class="gn"><circle cx="634" cy="511" r="6"/><text x="634" y="513.6">A0A514YQX8</text></g>
<g id="e_n10" class="gn"><circle cx="893" cy="511" r="6"/><text x="893" y="513.6">A0A5B7D4A2</text></g>
<g id="e_n11" class="gn"><circle cx="613" cy="533" r="6"/><text x="613" y="535.6">A0A5B7DDJ6</text></g>
<g id="e_n12" class="gn"><circle cx="916" cy="533" r="6"/><text x="916" y="535.6">A0A0P4WC98</text></g>
<g id="e_n13" class="gn"><circle cx="593" cy="557" r="6"/><text x="593" y="559.6">A0A0P4WSS5</text></g>
<g id="e_n14" class="gn"><circle cx="934" cy="557" r="6"/><text x="934" y="559.6">A0A0P4WPR9</text></g>
<g id="e_n15" class="gn"><circle cx="578" cy="585" r="6"/><text x="578" y="587.6">A0A0P4WF51</text></g>
<g id="e_n16" class="gn"><circle cx="949" cy="585" r="6"/><text x="949" y="587.6">A0A385IU68</text></g>
<g id="e_n17" class="gn"><circle cx="568" cy="614" r="6"/><text x="568" y="616.6">A0A0P4W446</text></g>
<g id="e_n18" class="gn"><circle cx="960" cy="614" r="6"/><text x="960" y="616.6">A0A5B7E2Q8</text></g>
<g id="e_n19" class="gn"><circle cx="560" cy="644" r="6.5"/><text x="560" y="646.6">A0A5B7FPE1</text></g>
<g id="e_n20" class="gn"><circle cx="965" cy="644" r="6"/><text x="965" y="646.6">A0A646T3M4</text></g>
<g id="e_n21" class="gn"><circle cx="561" cy="676" r="6.5"/><text x="561" y="678.6">A0A2P1IJ64</text></g>
<g id="e_n22" class="gn"><circle cx="968" cy="676" r="6"/><text x="968" y="678.6">A0A0P4W3N4</text></g>
<g id="e_n23" class="gn"><circle cx="564" cy="707" r="7"/><text x="564" y="709.6">A0A0N7ZDL3</text></g>
<g id="e_n24" class="gn"><circle cx="964" cy="707" r="6"/><text x="964" y="709.6">A0A0P4WCF9</text></g>
<g id="e_n25" class="gn"><circle cx="573" cy="737" r="7"/><text x="573" y="739.6">A0A5B7E4S3</text></g>
<g id="e_n26" class="gn"><circle cx="956" cy="738" r="6"/><text x="956" y="740.6">A0A0P4W621</text></g>
<g id="e_n27" class="gn"><circle cx="586" cy="766" r="7"/><text x="586" y="768.6">A0A0N7ZBZ0</text></g>
<g id="e_n28" class="gn"><circle cx="943" cy="766" r="6"/><text x="943" y="768.6">A0A0P4WH90</text></g>
<g id="e_n29" class="gn"><circle cx="602" cy="792" r="7.5"/><text x="602" y="794.6">A0A2H4GVI3</text></g>
<g id="e_n30" class="gn"><circle cx="926" cy="792" r="6"/><text x="926" y="794.6">A0A0P4W2K1</text></g>
<g id="e_n31" class="gn"><circle cx="623" cy="815" r="7.5"/><text x="623" y="817.6">A0A0P4WBI3</text></g>
<g id="e_n32" class="gn"><circle cx="905" cy="815" r="6"/><text x="905" y="817.6">A0A0P4VW36</text></g>
<g id="e_n33" class="gn"><circle cx="647" cy="835" r="8"/><text x="647" y="837.6">A0A1Z3GD41</text></g>
<g id="e_n34" class="gn"><circle cx="881" cy="835" r="6"/><text x="881" y="837.6">A0A5B7EKR5</text></g>
<g id="e_n35" class="gn"><circle cx="673" cy="851" r="8"/><text x="673" y="853.6">K4EG01</text></g>
<g id="e_n36" class="gn"><circle cx="854" cy="851" r="6"/><text x="854" y="853.6">A0A5B7DNR1</text></g>
<g id="e_n37" class="gn"><circle cx="703" cy="862" r="8"/><text x="703" y="864.6">A0A0P4WUQ9</text></g>
<g id="e_n38" class="gn"><circle cx="825" cy="862" r="6"/><text x="825" y="864.6">A0A0P4WF71</text></g>
<g id="e_n39" class="gn"><circle cx="733" cy="869" r="8"/><text x="733" y="871.6">A0A5B7E018</text></g>
<g id="e_n40" class="gn"><circle cx="764" cy="872" r="6"/><text x="764" y="874.6">A0A0P4WS89</text></g>
<g id="e_n41" class="gn"><circle cx="795" cy="869" r="6"/><text x="795" y="871.6">A0A0K2CTD2</text></g>
<g id="e_r1" class="rd"><circle cx="764" cy="568" r="12"/><text x="764" y="570.6">K9J9V3</text></g>
<g id="e_r2" class="rd"><circle cx="812" cy="578" r="12"/><text x="812" y="580.6">A0A0P4VWM0</text></g>
<g id="e_r3" class="rd"><circle cx="718" cy="583" r="8.5"/><text x="718" y="585.6">A0A5B7DQS8</text></g>
<g id="e_r4" class="rd"><circle cx="850" cy="608" r="11"/><text x="850" y="610.6">A0A0P4VWH4</text></g>
<g id="e_r5" class="rd"><circle cx="683" cy="618" r="8.5"/><text x="683" y="620.6">A0A0P4WGJ6</text></g>
<g id="e_r6" class="rd"><circle cx="871" cy="653" r="11"/><text x="871" y="655.6">A0A0P4VZE1</text></g>
<g id="e_r7" class="rd"><circle cx="669" cy="662" r="8.5"/><text x="669" y="664.6">A0A0P4WIC7</text></g>
<g id="e_r8" class="rd"><circle cx="868" cy="702" r="11"/><text x="868" y="704.6">A0A0P4VTM5</text></g>
<g id="e_r9" class="rd"><circle cx="678" cy="712" r="8.5"/><text x="678" y="714.6">A0A0P4WIB9</text></g>
<g id="e_r10" class="rd"><circle cx="842" cy="743" r="11"/><text x="842" y="745.6">A0A0P4WTD9</text></g>
<g id="e_r11" class="rd"><circle cx="708" cy="751" r="9"/><text x="708" y="753.6">A0A0B4UBA7</text></g>
<g id="e_r12" class="rd"><circle cx="752" cy="771" r="9"/><text x="752" y="773.6">A0A0P4WGE7</text></g>
<g id="e_r13" class="rd"><circle cx="801" cy="768" r="10"/><text x="801" y="770.6">A0A5B7E7M7</text></g>
</g>

<g id="nodes-f" class="ff">
<g id="f_n1" class="gn"><circle cx="1297" cy="458" r="6.5"/><text x="1297" y="461">A0A2D3E2W4</text></g>
<g id="f_n2" class="gn"><circle cx="1257" cy="463" r="6.5"/><text x="1257" y="466">A0A0P4VZ58</text></g>
<g id="f_n3" class="gn"><circle cx="1338" cy="463" r="6.5"/><text x="1338" y="466">A0A5B7DHC0</text></g>
<g id="f_n4" class="gn"><circle cx="1218" cy="474" r="6.5"/><text x="1218" y="477">A0A0P4WIC7</text></g>
<g id="f_n5" class="gn"><circle cx="1377" cy="474" r="6.5"/><text x="1377" y="477">A0A5B7K5W6</text></g>
<g id="f_n6" class="gn"><circle cx="1182" cy="494" r="6.5"/><text x="1182" y="497">A0A4Y6A7T4</text></g>
<g id="f_n7" class="gn"><circle cx="1413" cy="494" r="6.5"/><text x="1413" y="497">A0A0P4WF71</text></g>
<g id="f_n8" class="gn"><circle cx="1151" cy="521" r="6.5"/><text x="1151" y="524">A0A5B7EKR5</text></g>
<g id="f_n9" class="gn"><circle cx="1444" cy="521" r="6.5"/><text x="1444" y="524">A0A0P4WSS5</text></g>
<g id="f_n10" class="gn"><circle cx="1125" cy="552" r="6.5"/><text x="1125" y="555">G8BLI9</text></g>
<g id="f_n11" class="gn"><circle cx="1471" cy="552" r="6.5"/><text x="1471" y="555">A0A5B7DK02</text></g>
<g id="f_n12" class="gn"><circle cx="1105" cy="588" r="6.5"/><text x="1105" y="591">A0A5B7E169</text></g>
<g id="f_n13" class="gn"><circle cx="1490" cy="588" r="6.5"/><text x="1490" y="591">A0A2P1IJ64</text></g>
<g id="f_n14" class="gn"><circle cx="1094" cy="628" r="7"/><text x="1094" y="631">K9J9V3</text></g>
<g id="f_n15" class="gn"><circle cx="1502" cy="628" r="6.5"/><text x="1502" y="631">A0A0P4WJA8</text></g>
<g id="f_n16" class="gn"><circle cx="1090" cy="667" r="7.5"/><text x="1090" y="670">A0A0P4WUQ9</text></g>
<g id="f_n17" class="gn"><circle cx="1506" cy="667" r="6"/><text x="1506" y="670">A0A5B7D5P3</text></g>
<g id="f_n18" class="gn"><circle cx="1093" cy="709" r="7.5"/><text x="1093" y="712">A0A0P4WGF1</text></g>
<g id="f_n19" class="gn"><circle cx="1502" cy="709" r="6"/><text x="1502" y="712">A0A0N7ZDG9</text></g>
<g id="f_n20" class="gn"><circle cx="1106" cy="748" r="7.5"/><text x="1106" y="751">A0A5B7E018</text></g>
<g id="f_n21" class="gn"><circle cx="1490" cy="748" r="6"/><text x="1490" y="751">A0A5B7E7H5</text></g>
<g id="f_n22" class="gn"><circle cx="1124" cy="785" r="8"/><text x="1124" y="788">M9MT10</text></g>
<g id="f_n23" class="gn"><circle cx="1471" cy="785" r="6"/><text x="1471" y="788">V9I2Z6</text></g>
<g id="f_n24" class="gn"><circle cx="1151" cy="816" r="8"/><text x="1151" y="819">A0A5B7E4S3</text></g>
<g id="f_n25" class="gn"><circle cx="1444" cy="816" r="6"/><text x="1444" y="819">A0A0P4WEI6</text></g>
<g id="f_n26" class="gn"><circle cx="1182" cy="842" r="8.5"/><text x="1182" y="845">A0A1Z3GD41</text></g>
<g id="f_n27" class="gn"><circle cx="1413" cy="842" r="6"/><text x="1413" y="845">A0A5B7D4A2</text></g>
<g id="f_n28" class="gn"><circle cx="1218" cy="862" r="8.5"/><text x="1218" y="865">A0A0P4W000</text></g>
<g id="f_n29" class="gn"><circle cx="1377" cy="862" r="6"/><text x="1377" y="865">A0A0P4W8V4</text></g>
<g id="f_n30" class="gn"><circle cx="1257" cy="873" r="9"/><text x="1257" y="876">A0A0P4WGJ6</text></g>
<g id="f_n31" class="gn"><circle cx="1297" cy="877" r="6"/><text x="1297" y="880">A0A0P4WCF9</text></g>
<g id="f_n32" class="gn"><circle cx="1338" cy="873" r="6"/><text x="1338" y="876">A0A0P4VX21</text></g>
<g id="f_r1" class="rd"><circle cx="1298" cy="581" r="15"/><text x="1298" y="584">A0A0P4VTM5</text></g>
<g id="f_r2" class="rd"><circle cx="1238" cy="605" r="9.5"/><text x="1238" y="608">A0A0P4WDV6</text></g>
<g id="f_r3" class="rd"><circle cx="1357" cy="605" r="12"/><text x="1357" y="608">K4EG01</text></g>
<g id="f_r4" class="rd"><circle cx="1214" cy="664" r="10"/><text x="1214" y="667">A0A0P4WIB9</text></g>
<g id="f_r5" class="rd"><circle cx="1381" cy="664" r="12"/><text x="1381" y="667">A0A0P4W839</text></g>
<g id="f_r6" class="rd"><circle cx="1239" cy="723" r="11"/><text x="1239" y="726">A0A5B7FPE1</text></g>
<g id="f_r7" class="rd"><circle cx="1357" cy="723" r="12"/><text x="1357" y="726">A0A0P4WH90</text></g>
<g id="f_r8" class="rd"><circle cx="1298" cy="748" r="12"/><text x="1298" y="751">A0A0P4VZE1</text></g>
</g>
</svg>
